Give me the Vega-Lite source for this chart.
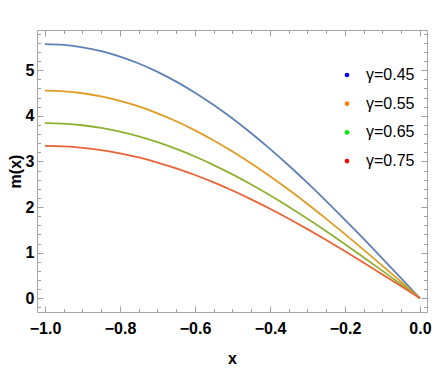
{
  "$schema": "https://vega.github.io/schema/vega-lite/v6.json",
  "width": 390,
  "height": 282,
  "autosize": {"type": "none"},
  "padding": {"left": 37, "top": 30, "right": 9, "bottom": 70},
  "background": "white",
  "config": {
    "view": {"stroke": "#a6a6a6", "strokeWidth": 1},
    "font": "Liberation Sans Narrow, Liberation Sans"
  },
  "data": {
    "values": [
      {"x": -1.0, "m": 5.57, "g": "γ=0.45"},
      {"x": -0.95, "m": 5.553, "g": "γ=0.45"},
      {"x": -0.9, "m": 5.501, "g": "γ=0.45"},
      {"x": -0.85, "m": 5.416, "g": "γ=0.45"},
      {"x": -0.8, "m": 5.297, "g": "γ=0.45"},
      {"x": -0.75, "m": 5.146, "g": "γ=0.45"},
      {"x": -0.7, "m": 4.963, "g": "γ=0.45"},
      {"x": -0.65, "m": 4.749, "g": "γ=0.45"},
      {"x": -0.6, "m": 4.506, "g": "γ=0.45"},
      {"x": -0.55, "m": 4.235, "g": "γ=0.45"},
      {"x": -0.5, "m": 3.939, "g": "γ=0.45"},
      {"x": -0.45, "m": 3.617, "g": "γ=0.45"},
      {"x": -0.4, "m": 3.274, "g": "γ=0.45"},
      {"x": -0.35, "m": 2.91, "g": "γ=0.45"},
      {"x": -0.3, "m": 2.529, "g": "γ=0.45"},
      {"x": -0.25, "m": 2.132, "g": "γ=0.45"},
      {"x": -0.2, "m": 1.721, "g": "γ=0.45"},
      {"x": -0.15, "m": 1.3, "g": "γ=0.45"},
      {"x": -0.1, "m": 0.871, "g": "γ=0.45"},
      {"x": -0.05, "m": 0.437, "g": "γ=0.45"},
      {"x": 0.0, "m": 0.0, "g": "γ=0.45"},
      {"x": -1.0, "m": 4.55, "g": "γ=0.55"},
      {"x": -0.95, "m": 4.536, "g": "γ=0.55"},
      {"x": -0.9, "m": 4.494, "g": "γ=0.55"},
      {"x": -0.85, "m": 4.424, "g": "γ=0.55"},
      {"x": -0.8, "m": 4.327, "g": "γ=0.55"},
      {"x": -0.75, "m": 4.204, "g": "γ=0.55"},
      {"x": -0.7, "m": 4.054, "g": "γ=0.55"},
      {"x": -0.65, "m": 3.88, "g": "γ=0.55"},
      {"x": -0.6, "m": 3.681, "g": "γ=0.55"},
      {"x": -0.55, "m": 3.46, "g": "γ=0.55"},
      {"x": -0.5, "m": 3.217, "g": "γ=0.55"},
      {"x": -0.45, "m": 2.955, "g": "γ=0.55"},
      {"x": -0.4, "m": 2.674, "g": "γ=0.55"},
      {"x": -0.35, "m": 2.377, "g": "γ=0.55"},
      {"x": -0.3, "m": 2.066, "g": "γ=0.55"},
      {"x": -0.25, "m": 1.741, "g": "γ=0.55"},
      {"x": -0.2, "m": 1.406, "g": "γ=0.55"},
      {"x": -0.15, "m": 1.062, "g": "γ=0.55"},
      {"x": -0.1, "m": 0.712, "g": "γ=0.55"},
      {"x": -0.05, "m": 0.357, "g": "γ=0.55"},
      {"x": 0.0, "m": 0.0, "g": "γ=0.55"},
      {"x": -1.0, "m": 3.84, "g": "γ=0.65"},
      {"x": -0.95, "m": 3.828, "g": "γ=0.65"},
      {"x": -0.9, "m": 3.793, "g": "γ=0.65"},
      {"x": -0.85, "m": 3.734, "g": "γ=0.65"},
      {"x": -0.8, "m": 3.652, "g": "γ=0.65"},
      {"x": -0.75, "m": 3.548, "g": "γ=0.65"},
      {"x": -0.7, "m": 3.421, "g": "γ=0.65"},
      {"x": -0.65, "m": 3.274, "g": "γ=0.65"},
      {"x": -0.6, "m": 3.107, "g": "γ=0.65"},
      {"x": -0.55, "m": 2.92, "g": "γ=0.65"},
      {"x": -0.5, "m": 2.715, "g": "γ=0.65"},
      {"x": -0.45, "m": 2.494, "g": "γ=0.65"},
      {"x": -0.4, "m": 2.257, "g": "γ=0.65"},
      {"x": -0.35, "m": 2.006, "g": "γ=0.65"},
      {"x": -0.3, "m": 1.743, "g": "γ=0.65"},
      {"x": -0.25, "m": 1.47, "g": "γ=0.65"},
      {"x": -0.2, "m": 1.187, "g": "γ=0.65"},
      {"x": -0.15, "m": 0.896, "g": "γ=0.65"},
      {"x": -0.1, "m": 0.601, "g": "γ=0.65"},
      {"x": -0.05, "m": 0.301, "g": "γ=0.65"},
      {"x": 0.0, "m": 0.0, "g": "γ=0.65"},
      {"x": -1.0, "m": 3.34, "g": "γ=0.75"},
      {"x": -0.95, "m": 3.33, "g": "γ=0.75"},
      {"x": -0.9, "m": 3.299, "g": "γ=0.75"},
      {"x": -0.85, "m": 3.248, "g": "γ=0.75"},
      {"x": -0.8, "m": 3.177, "g": "γ=0.75"},
      {"x": -0.75, "m": 3.086, "g": "γ=0.75"},
      {"x": -0.7, "m": 2.976, "g": "γ=0.75"},
      {"x": -0.65, "m": 2.848, "g": "γ=0.75"},
      {"x": -0.6, "m": 2.702, "g": "γ=0.75"},
      {"x": -0.55, "m": 2.54, "g": "γ=0.75"},
      {"x": -0.5, "m": 2.362, "g": "γ=0.75"},
      {"x": -0.45, "m": 2.169, "g": "γ=0.75"},
      {"x": -0.4, "m": 1.963, "g": "γ=0.75"},
      {"x": -0.35, "m": 1.745, "g": "γ=0.75"},
      {"x": -0.3, "m": 1.516, "g": "γ=0.75"},
      {"x": -0.25, "m": 1.278, "g": "γ=0.75"},
      {"x": -0.2, "m": 1.032, "g": "γ=0.75"},
      {"x": -0.15, "m": 0.78, "g": "γ=0.75"},
      {"x": -0.1, "m": 0.522, "g": "γ=0.75"},
      {"x": -0.05, "m": 0.262, "g": "γ=0.75"},
      {"x": 0.0, "m": 0.0, "g": "γ=0.75"}
    ]
  },
  "layer": [
    {
      "mark": {"type": "line", "strokeWidth": 1.8, "interpolate": "monotone", "clip": true},
      "encoding": {
        "x": {
          "field": "x", "type": "quantitative",
          "scale": {"domain": [-1.0213, 0.0187], "nice": false, "zero": false},
          "axis": {
            "orient": "bottom",
            "title": "x",
            "titleFont": "Liberation Sans",
            "titleFontSize": 16,
            "titleFontWeight": "bold",
            "titleColor": "black",
            "titlePadding": 14,
            "domain": false,
            "grid": false,
            "values": [-1, -0.95, -0.9, -0.85, -0.8, -0.75, -0.7, -0.65, -0.6, -0.55, -0.5, -0.45, -0.4, -0.35, -0.3, -0.25, -0.2, -0.15, -0.1, -0.05, 0],
            "labelExpr": "abs(datum.value*5 - round(datum.value*5)) < 0.001 ? format(datum.value, '.1f') : ''",
            "tickColor": "#a0a0a0",
            "tickWidth": 1,
            "tickSize": {"condition": {"test": "abs(datum.value*5 - round(datum.value*5)) < 0.001", "value": -6}, "value": -3.5},
            "labelFontSize": 16,
            "labelFontWeight": "bold",
            "labelColor": "black",
            "labelPadding": 14,
            "labelFlush": false
          }
        },
        "y": {
          "field": "m", "type": "quantitative",
          "scale": {"domain": [-0.3, 5.88], "nice": false, "zero": false},
          "axis": {
            "orient": "left",
            "title": "m(x)",
            "titleFont": "Liberation Sans",
            "titleFontSize": 16,
            "titleFontWeight": "bold",
            "titleColor": "black",
            "titlePadding": 2,
            "domain": false,
            "grid": false,
            "values": [-0.2, 0, 0.2, 0.4, 0.6, 0.8, 1, 1.2, 1.4, 1.6, 1.8, 2, 2.2, 2.4, 2.6, 2.8, 3, 3.2, 3.4, 3.6, 3.8, 4, 4.2, 4.4, 4.6, 4.8, 5, 5.2, 5.4, 5.6, 5.8],
            "labelExpr": "abs(datum.value - round(datum.value)) < 0.001 ? format(datum.value, 'd') : ''",
            "tickColor": "#a0a0a0",
            "tickWidth": 1,
            "tickSize": {"condition": {"test": "abs(datum.value - round(datum.value)) < 0.001", "value": -6}, "value": -3.5},
            "labelFontSize": 16,
            "labelFontWeight": "bold",
            "labelColor": "black",
            "labelPadding": 9,
            "labelFlush": false
          }
        },
        "color": {
          "field": "g", "type": "nominal",
          "scale": {"domain": ["γ=0.45", "γ=0.55", "γ=0.65", "γ=0.75"], "range": ["#5E81B5", "#E19C24", "#8FB131", "#EB6235"]},
          "legend": null
        }
      }
    },
    {
      "mark": {"type": "point", "filled": true, "opacity": 0},
      "encoding": {
        "x": {
          "field": "x", "type": "quantitative",
          "axis": {
            "orient": "top", "title": null, "domain": false, "grid": false, "labels": false,
            "values": [-1, -0.95, -0.9, -0.85, -0.8, -0.75, -0.7, -0.65, -0.6, -0.55, -0.5, -0.45, -0.4, -0.35, -0.3, -0.25, -0.2, -0.15, -0.1, -0.05, 0],
            "tickColor": "#a0a0a0",
            "tickWidth": 1,
            "tickSize": {"condition": {"test": "abs(datum.value*5 - round(datum.value*5)) < 0.001", "value": -6}, "value": -3.5}
          }
        },
        "y": {
          "field": "m", "type": "quantitative",
          "axis": {
            "orient": "right", "title": null, "domain": false, "grid": false, "labels": false,
            "values": [-0.2, 0, 0.2, 0.4, 0.6, 0.8, 1, 1.2, 1.4, 1.6, 1.8, 2, 2.2, 2.4, 2.6, 2.8, 3, 3.2, 3.4, 3.6, 3.8, 4, 4.2, 4.4, 4.6, 4.8, 5, 5.2, 5.4, 5.6, 5.8],
            "tickColor": "#a0a0a0",
            "tickWidth": 1,
            "tickSize": {"condition": {"test": "abs(datum.value - round(datum.value)) < 0.001", "value": -6}, "value": -3.5}
          }
        },
        "color": {
          "field": "g", "type": "nominal",
          "scale": {"domain": ["γ=0.45", "γ=0.55", "γ=0.65", "γ=0.75"], "range": ["#0000FF", "#FF8000", "#00EE00", "#FF0000"]},
          "legend": {
            "orient": "none",
            "legendX": 302,
            "legendY": 37,
            "title": null,
            "padding": 0,
            "symbolType": "circle",
            "symbolSize": 22,
            "symbolOpacity": 1,
            "symbolStrokeWidth": 0,
            "labelFontSize": 16,
            "labelColor": "black",
            "labelOffset": 11,
            "rowPadding": 12.7
          }
        }
      }
    }
  ],
  "resolve": {"axis": {"x": "independent", "y": "independent"}, "scale": {"color": "independent"}}
}
